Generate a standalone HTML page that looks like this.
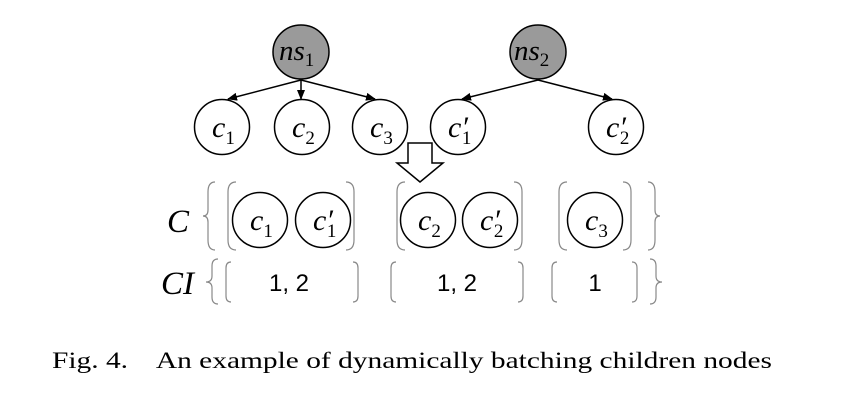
<!DOCTYPE html>
<html><head><meta charset="utf-8"><style>
html,body{margin:0;padding:0;background:#fff;}
svg{display:block;}
</style></head><body>
<svg width="846" height="404" viewBox="0 0 846 404" xmlns="http://www.w3.org/2000/svg">
<defs>
<marker id="ah" markerWidth="10" markerHeight="8" refX="9" refY="4" orient="auto" markerUnits="userSpaceOnUse">
<path d="M0,0 L10,4 L0,8 z" fill="#000"/>
</marker>
</defs>
<g stroke="#000" stroke-width="1.5" fill="none">
<line x1="301" y1="80" x2="228" y2="99" marker-end="url(#ah)"/>
<line x1="301" y1="80" x2="301" y2="99" marker-end="url(#ah)"/>
<line x1="301" y1="80" x2="375" y2="99" marker-end="url(#ah)"/>
<line x1="538" y1="80" x2="462" y2="99" marker-end="url(#ah)"/>
<line x1="538" y1="80" x2="612" y2="99" marker-end="url(#ah)"/>
<ellipse cx="301" cy="52" rx="28" ry="27" fill="#9a9a9a"/>
<ellipse cx="538" cy="52" rx="28" ry="27" fill="#9a9a9a"/>
<circle cx="222" cy="127" r="27.5" fill="#fff"/>
<circle cx="302" cy="127" r="27.5" fill="#fff"/>
<circle cx="380" cy="127" r="27.5" fill="#fff"/>
<circle cx="458" cy="127" r="27.5" fill="#fff"/>
<circle cx="616" cy="127" r="27.5" fill="#fff"/>
<path d="M408,143 L432,143 L432,163 L443,163 L420,182 L397,163 L408,163 Z" fill="#fff"/>
<circle cx="260" cy="220" r="27.5"/>
<circle cx="323" cy="220" r="27.5"/>
<circle cx="428" cy="220" r="27.5"/>
<circle cx="490" cy="220" r="27.5"/>
<circle cx="595" cy="220" r="27.5"/>
</g>
<g stroke="#888" stroke-width="1.2" fill="none">
<path d="M236,182 Q228,182 228,192 L228,240 Q228,250 236,250"/>
<path d="M346,182 Q354,182 354,192 L354,240 Q354,250 346,250"/>
<path d="M405,182 Q397,182 397,192 L397,240 Q397,250 405,250"/>
<path d="M514,182 Q522,182 522,192 L522,240 Q522,250 514,250"/>
<path d="M567,182 Q559,182 559,192 L559,240 Q559,250 567,250"/>
<path d="M623,182 Q631,182 631,192 L631,240 Q631,250 623,250"/>
<path d="M215,182 Q208,182 208,192 L208,210 Q208,216 203,216 Q208,216 208,222 L208,240 Q208,250 215,250"/>
<path d="M648,182 Q655,182 655,192 L655,210 Q655,216 660,216 Q655,216 655,222 L655,240 Q655,250 648,250"/>
<path d="M231,262 Q226,262 226,268 L226,296 Q226,302 231,302"/>
<path d="M353,262 Q358,262 358,268 L358,296 Q358,302 353,302"/>
<path d="M396,262 Q391,262 391,268 L391,296 Q391,302 396,302"/>
<path d="M518,262 Q523,262 523,268 L523,296 Q523,302 518,302"/>
<path d="M557,262 Q552,262 552,268 L552,296 Q552,302 557,302"/>
<path d="M632,262 Q637,262 637,268 L637,296 Q637,302 632,302"/>
<path d="M218,259 Q212,259 212,266 L212,276 Q212,282 206,282 Q212,282 212,288 L212,297 Q212,304 218,304"/>
<path d="M650,259 Q656,259 656,266 L656,276 Q656,282 662,282 Q656,282 656,288 L656,297 Q656,304 650,304"/>
</g>
<g font-family="Liberation Serif, serif" font-style="italic" fill="#000">
<text x="279" y="60" font-size="29">ns<tspan font-size="19" dy="6" font-style="normal">1</tspan></text>
<text x="514" y="60" font-size="29">ns<tspan font-size="19" dy="6" font-style="normal">2</tspan></text>
<g font-size="30">
<text x="212" y="137">c<tspan font-size="19" dy="7" font-style="normal">1</tspan></text>
<text x="292" y="137">c<tspan font-size="19" dy="7" font-style="normal">2</tspan></text>
<text x="370" y="137">c<tspan font-size="19" dy="7" font-style="normal">3</tspan></text>
<text x="448" y="137">c′<tspan font-size="19" dy="7" dx="-6" font-style="normal">1</tspan></text>
<text x="606" y="137">c′<tspan font-size="19" dy="7" dx="-6" font-style="normal">2</tspan></text>
<text x="250" y="230">c<tspan font-size="19" dy="7" font-style="normal">1</tspan></text>
<text x="313" y="230">c′<tspan font-size="19" dy="7" dx="-6" font-style="normal">1</tspan></text>
<text x="418" y="230">c<tspan font-size="19" dy="7" font-style="normal">2</tspan></text>
<text x="480" y="230">c′<tspan font-size="19" dy="7" dx="-6" font-style="normal">2</tspan></text>
<text x="585" y="230">c<tspan font-size="19" dy="7" font-style="normal">3</tspan></text>
</g>
<text x="167" y="232" font-size="33">C</text>
<text x="161" y="294" font-size="33">CI</text>
</g>
<g font-family="Liberation Sans, sans-serif" font-size="24" fill="#000" text-anchor="middle">
<text x="289" y="291">1, 2</text>
<text x="457" y="291">1, 2</text>
<text x="595" y="291">1</text>
</g>
<text x="52" y="368" font-family="Liberation Serif, serif" font-size="23" fill="#000" textLength="720" lengthAdjust="spacingAndGlyphs">Fig. 4.&#160;&#160;&#160; An example of dynamically batching children nodes</text>
</svg>
</body></html>
